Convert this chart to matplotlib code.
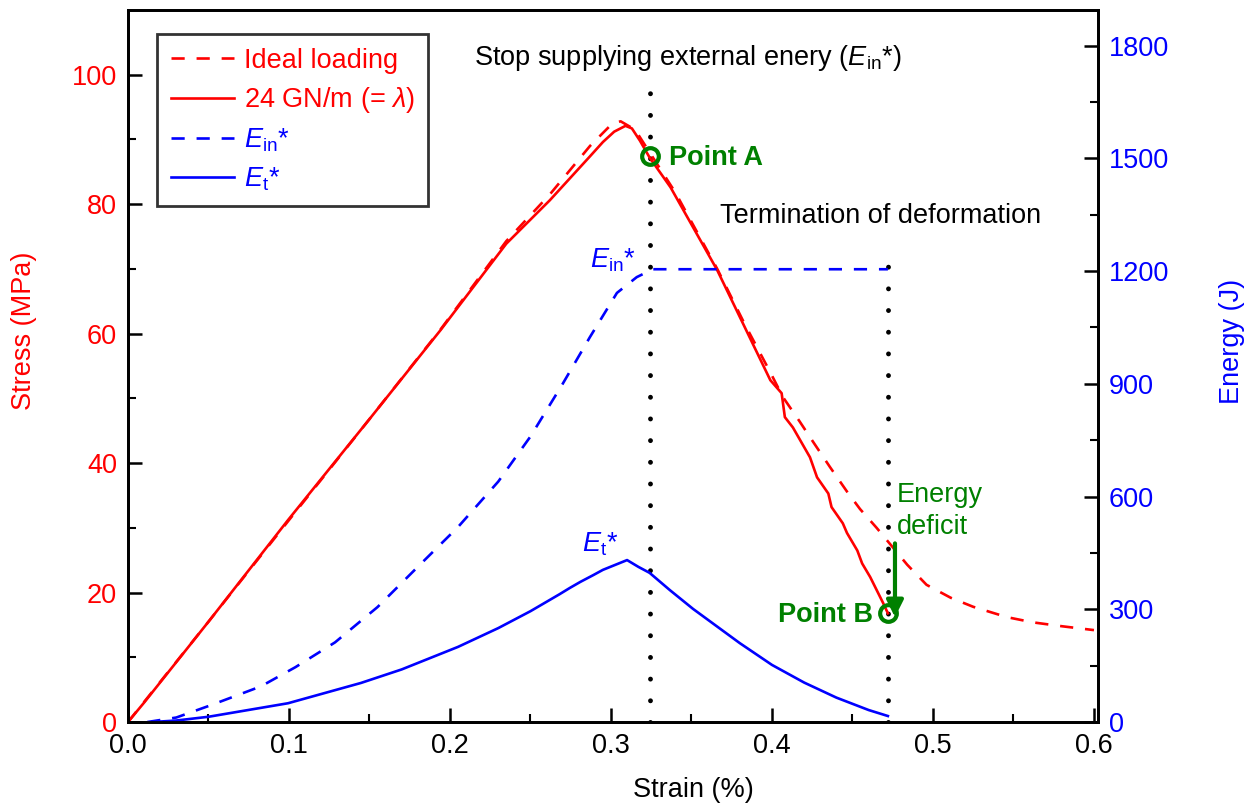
import matplotlib
matplotlib.use("Agg")
import matplotlib.pyplot as plt

plt.rcParams['font.family'] = ['Liberation Sans', 'DejaVu Sans']
plt.rcParams['mathtext.fontset'] = 'custom'
plt.rcParams['mathtext.rm'] = 'Liberation Sans'
plt.rcParams['mathtext.it'] = 'Liberation Sans:italic'

# stress-strain, 24 GN/m
strain_24 = [0, 0.01, 0.05, 0.0994, 0.15, 0.194, 0.235, 0.262, 0.287, 0.295, 0.302, 0.309,
             0.313, 0.318, 0.324, 0.337, 0.366, 0.399, 0.406, 0.408, 0.413, 0.4236, 0.428,
             0.435, 0.437, 0.444, 0.4466, 0.453, 0.456, 0.461, 0.469, 0.472]
stress_24 = [0, 3.0, 15.5, 31.2, 46.8, 60.5, 73.9, 80.6, 87.4, 89.6, 91.2, 92.1,
             91.7, 89.8, 87.2, 82.6, 69.8, 52.8, 50.8, 47.1, 45.5, 40.9, 37.8,
             35.3, 33.2, 30.7, 29.2, 26.5, 24.5, 22.4, 18.4, 16.8]

# ideal loading
strain_ideal = [0, 0.05, 0.1, 0.15, 0.194, 0.235, 0.262, 0.287, 0.3006, 0.306, 0.315, 0.324,
                0.34, 0.366, 0.383, 0.399, 0.4068, 0.417, 0.4255, 0.436, 0.4466, 0.4547,
                0.465, 0.475, 0.484, 0.496, 0.511, 0.525, 0.546, 0.562, 0.58, 0.6]
stress_ideal = [0, 15.5, 31.2, 46.8, 60.6, 74.3, 81.5, 89.0, 92.4, 92.8, 91.5, 88.0,
                81.8, 70.0, 61.5, 54.0, 50.2, 46.5, 43.3, 39.4, 35.6, 32.9,
                30.0, 27.0, 24.3, 21.2, 19.2, 17.8, 16.2, 15.4, 14.8, 14.2]

# energies (J)
strain_ein = [0.012, 0.03, 0.0516, 0.0826, 0.104, 0.1286, 0.155, 0.180, 0.205, 0.23, 0.25,
              0.27, 0.287, 0.3037, 0.316, 0.326, 0.472]
energy_ein = [0, 12, 45, 95, 146, 212, 306, 413, 519, 640, 760, 900, 1025, 1142, 1184, 1205, 1205]

strain_et = [0.015, 0.03, 0.05, 0.0994, 0.1447, 0.17, 0.205, 0.23, 0.25, 0.268, 0.2745, 0.281,
             0.289, 0.295, 0.3025, 0.31, 0.317, 0.324, 0.3366, 0.351, 0.38, 0.40, 0.42, 0.44,
             0.46, 0.472]
energy_et = [0, 4, 14, 50, 104, 140, 200, 250, 295, 340, 357, 373,
             391, 405, 418, 431, 413, 397, 351, 301, 210, 152, 105, 65,
             32, 16]

point_a = (0.324, 87.5)
point_b = (0.472, 16.8)

fig = plt.figure(figsize=(12.56, 8.10), dpi=100)
ax = fig.add_axes([0.1019, 0.1086, 0.7723, 0.8791])
ax2 = ax.twinx()

red = '#ff0000'
blue = '#0000ff'
green = '#008000'
fs = 19.5

l1, = ax.plot(strain_ideal, stress_ideal, color=red, lw=1.9, dashes=(5, 4.5), label='Ideal loading')
l2, = ax.plot(strain_24, stress_24, color=red, lw=1.9, label=r'24 GN/m (= $\lambda$)')
l3, = ax2.plot(strain_ein, energy_ein, color=blue, lw=1.9, dashes=(5, 4.5), label=r'$E_{\rm in}$*')
l4, = ax2.plot(strain_et, energy_et, color=blue, lw=1.9, label=r'$E_{\rm t}$*')

# dotted markers of the two moments
for xv, ytop in [(point_a[0], 98.0), (point_b[0], 73.2)]:
    ax.plot([xv, xv], [0, ytop], color='black', lw=3.5, linestyle=(0, (0.01, 4.45)),
            dash_capstyle='round', zorder=1)

for p in (point_a, point_b):
    ax2.plot([p[0]], [p[1] * 1895 / 110], 'o', ms=12, mfc='none', mec=green, mew=3, zorder=5)

ax.text(0.336, 87.2, 'Point A', color=green, fontsize=fs, fontweight='bold', va='center')
ax.text(0.4625, 16.5, 'Point B', color=green, fontsize=fs, fontweight='bold', va='center', ha='right')
ax.text(0.3478, 102.6, r'Stop supplying external enery ($E_{\rm in}$*)', fontsize=fs,
        ha='center', va='center')
ax.text(0.3677, 78.2, 'Termination of deformation', fontsize=fs, va='center')
ax.text(0.4775, 32.6, 'Energy\ndeficit', color=green, fontsize=fs, va='center', linespacing=1.32)
ax.annotate('', xy=(0.4764, 16.2), xytext=(0.4764, 27.6),
            arrowprops=dict(arrowstyle='-|>', color=green, lw=3, mutation_scale=25,
                            shrinkA=0, shrinkB=0))
ax.text(0.287, 71.3, r'$E_{\rm in}$*', color=blue, fontsize=fs, va='center')
ax.text(0.282, 27.5, r'$E_{\rm t}$*', color=blue, fontsize=fs, va='center')

ax.set_xlim(0, 0.6025)
ax.set_ylim(0, 110)
ax2.set_ylim(0, 1895)

ax.set_xticks([0, 0.1, 0.2, 0.3, 0.4, 0.5, 0.6])
ax.set_xticklabels(['0.0', '0.1', '0.2', '0.3', '0.4', '0.5', '0.6'])
ax.set_xticks([0.05, 0.15, 0.25, 0.35, 0.45, 0.55], minor=True)
ax.set_yticks([0, 20, 40, 60, 80, 100])
ax.set_yticks([10, 30, 50, 70, 90], minor=True)
ax2.set_yticks([0, 300, 600, 900, 1200, 1500, 1800])
ax2.set_yticks([150, 450, 750, 1050, 1350, 1650], minor=True)

ax.tick_params(axis='both', which='major', direction='in', length=10, width=1.8, labelsize=fs)
ax.tick_params(axis='both', which='minor', direction='in', length=6, width=1.5)
ax.tick_params(axis='y', colors='black', labelcolor=red, pad=8)
ax2.tick_params(axis='y', which='major', direction='in', length=10, width=1.8, labelsize=fs,
                labelcolor=blue, pad=8)
ax2.tick_params(axis='y', which='minor', direction='in', length=6, width=1.5)
ax.tick_params(axis='x', pad=8)

for a in (ax, ax2):
    for s in a.spines.values():
        s.set_linewidth(2)

ax.set_xlabel('Strain (%)', fontsize=fs)
ax.set_ylabel('Stress (MPa)', fontsize=fs, color=red)
ax2.set_ylabel('Energy (J)', fontsize=fs, color=blue, rotation=90)
ax.xaxis.set_label_coords(0.583, -0.0955)
ax.yaxis.set_label_coords(-0.107, 0.549)
ax2.yaxis.set_label_coords(1.138, 0.534)
ax.xaxis.label.set_va('center')
ax.yaxis.label.set_va('center')
ax2.yaxis.label.set_va('center')

leg = ax.legend(handles=[l1, l2, l3, l4], loc='upper left', bbox_to_anchor=(0.03, 0.966),
                borderaxespad=0, fontsize=fs, frameon=True, fancybox=False, edgecolor='black',
                handlelength=2.35, handletextpad=0.35, borderpad=0.5, labelspacing=0.42)
leg.get_frame().set_linewidth(2)
for txt, ln in zip(leg.get_texts(), [l1, l2, l3, l4]):
    txt.set_color(ln.get_color())

fig.savefig('out.png', dpi=100)
